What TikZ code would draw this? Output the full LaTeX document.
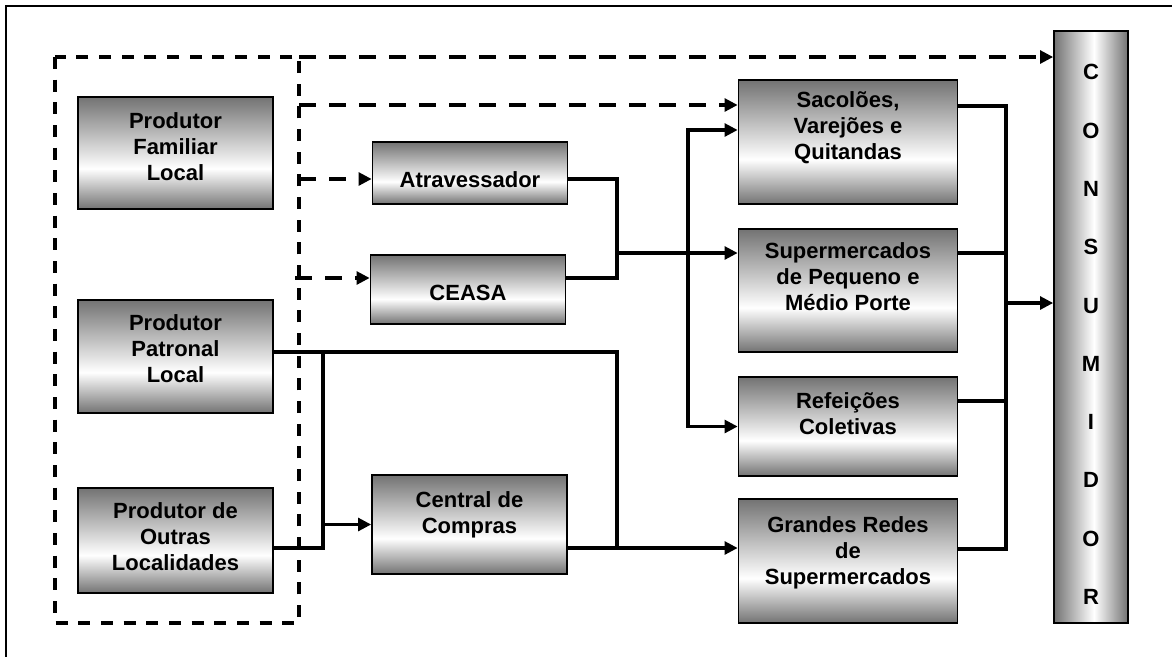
\documentclass[tikz,border=0pt]{standalone}
\usepackage{fontspec}
\setmainfont{Liberation Sans}
\usetikzlibrary{arrows.meta}

\pgfdeclareverticalshading{boxfill}{100bp}{color(0bp)=(black!55); color(25bp)=(black!55); color(43bp)=(white); color(75bp)=(black!55); color(100bp)=(black!55)}
\pgfdeclarehorizontalshading{colfill}{100bp}{color(0bp)=(black!55); color(25bp)=(black!55); color(52bp)=(white); color(75bp)=(black!55); color(100bp)=(black!55)}

\begin{document}
\begin{tikzpicture}[x=0.75pt, y=-0.75pt,
  box/.style={draw, line width=1.2pt, shading=boxfill, inner sep=0pt},
  txt/.style={align=center, inner sep=0pt, font=\bfseries\fontsize{16.5}{19.5}\selectfont},
  link/.style={line width=2.5pt},
  flow/.style={link, -{Triangle[length=9.75pt, width=9.5pt]}},
  feed/.style={flow, dash pattern=on 12.75pt off 9.75pt},
  group/.style={line width=2.6pt, dash pattern=on 9pt off 8pt}]

  \useasboundingbox (0,0) rectangle (1172,657);
  \draw[line width=1.5pt] (6,657) -- (6,6) -- (1172,6);

  % producers, middlemen and retail
  \foreach \nm/\cx/\cy/\bw/\bh/\dy/\lbl in {
    fam/175.5/153/146.25/84/4.9/{Produtor\\Familiar\\Local},
    pat/175.5/356.5/146.25/84.75/6/{Produtor\\Patronal\\Local},
    out/175.5/540.5/146.25/78.75/2.6/{Produtor de\\Outras\\Localidades},
    atr/470/173/146.25/46.5/-5.2/{Atravessador},
    cea/468/289.5/146.25/51.75/-2.6/{CEASA},
    cen/469.5/524.5/146.25/74.25/7.6/{Central de\\Compras},
    sac/848/142/164.25/93/10.5/{Sacolões,\\Varejões e\\Quitandas},
    sup/848/290.5/164.25/92.25/10.5/{Supermercados\\de Pequeno e\\Médio Porte},
    ref/848/426.5/164.25/74.25/9.4/{Refeições\\Coletivas},
    gra/848/561/164.25/93/6.2/{Grandes Redes\\de\\Supermercados}} {
    \node[box, minimum width=\bw pt, minimum height=\bh pt] (\nm) at (\cx,\cy) {};
    \node[txt] (\nm-t) at ([yshift=\dy pt]\nm.center) {\lbl};
  }

  \node[draw, line width=1.2pt, shading=colfill, inner sep=0pt,
    minimum width=55.5pt, minimum height=444pt] (con) at (1091,327) {};
  \node[txt, font=\bfseries\fontsize{16.5}{43.7}\selectfont] (con-t)
    at ([yshift=-5.6pt]con.center) {C\\O\\N\\S\\U\\M\\I\\D\\O\\R};

  % local producers group
  \draw[group] (55,57) rectangle (299,623);

  \coordinate (d1) at (299,57);
  \coordinate (d2) at (299,105);
  \coordinate (d3) at (299,179);
  \coordinate (d4) at (295,278);
  \draw[feed] (d1) -- (d1 -| con.west);
  \draw[feed] (d2) -- (d2 -| sac.west);
  \draw[feed] (d3) -- (d3 -| atr.west);
  \draw[feed] (d4) -- (d4 -| cea.west);

  \coordinate (j1) at (617,253);
  \coordinate (j2) at (688,253);
  \coordinate (j3) at (617,548);
  \coordinate (j5) at (323,352);
  \coordinate (j6) at (1006,303);

  \draw[link] (atr.east |- d3) -| (j1);
  \draw[link] (cea.east |- d4) -| (j1);
  \draw[flow] (j1) -- (j1 -| sup.west);
  \draw[flow] (j2) |- ([yshift=9pt]sac.west);
  \draw[flow] (j2) |- (ref.west);

  \draw[link] (pat.east |- j5) -| (j3);
  \draw[link] (out.east |- j3) -| (j5);
  \draw[flow] (j5 |- cen.west) -- (cen.west);
  \draw[flow] (cen.east |- j3) -- (j3 -| gra.west);

  \draw[link] ([yshift=27pt]sac.east) -| (j6);
  \draw[link] ([yshift=28.1pt]sup.east) -| (j6);
  \draw[link] ([yshift=19.1pt]ref.east) -| (j6);
  \draw[link] ([yshift=9pt]gra.east) -| (j6);
  \draw[flow] (j6) -- (j6 -| con.west);

\end{tikzpicture}
\end{document}
